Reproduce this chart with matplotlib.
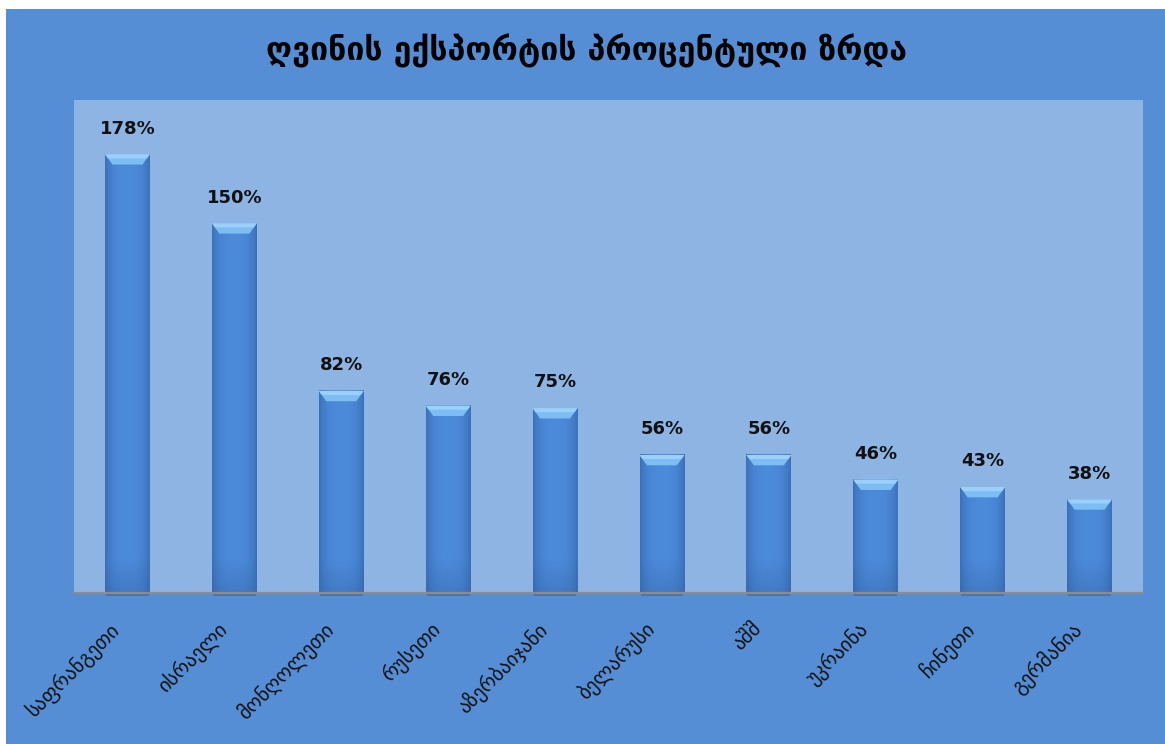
import matplotlib
matplotlib.use("Agg")
import matplotlib.pyplot as plt
import numpy as np
from matplotlib.patches import Rectangle, Polygon
from matplotlib.colors import to_rgb
from matplotlib.transforms import ScaledTranslation

title = "ღვინის ექსპორტის პროცენტული ზრდა"
categories = ["საფრანგეთი", "ისრაელი", "მონღოლეთი", "რუსეთი", "აზერბაიჯანი",
              "ბელარუსი", "აშშ", "უკრაინა", "ჩინეთი", "გერმანია"]
values = [178, 150, 82, 76, 75, 56, 56, 46, 43, 38]
value_labels = ["178%", "150%", "82%", "76%", "75%", "56%", "56%", "46%", "43%", "38%"]

plt.rcParams['font.family'] = ['DejaVu Sans']

W, H = 1165, 744
fig = plt.figure(figsize=(W / 100, H / 100), dpi=100, facecolor="white")
fig.patches.append(Rectangle((6 / W, 0), 1, (H - 9) / H, transform=fig.transFigure,
                             facecolor="#558ED5", edgecolor="none", zorder=-10))

left, right, top, bottom = 74 / W, 1143 / W, 1 - 100 / H, 1 - 593 / H
ax = fig.add_axes([left, bottom, right - left, top - bottom])
ax.set_facecolor("#8EB4E3")
for s in ["top", "right", "left"]:
    ax.spines[s].set_visible(False)
ax.spines["bottom"].set_color("#8C8C8C")
ax.spines["bottom"].set_linewidth(1.6)
ax.spines["bottom"].set_zorder(5)

x = np.arange(len(categories))
bw = 0.42
bars = ax.bar(x, values, width=bw, color="#4A86D4", edgecolor="none", zorder=2)
ax.set_xlim(-0.5, len(categories) - 0.5)
ax.set_ylim(0, 200)
ax.set_yticks([])

# gradient fills
nx, ny = 64, 128
u = np.linspace(-1, 1, nx)
hprof = 1 - 0.55 * np.abs(u) ** 3
v = np.linspace(0, 1, ny)[:, None]
c_mid = np.array(to_rgb("#4C8ADA"))
c_edge = np.array(to_rgb("#2E5C9E"))
c_bot = np.array(to_rgb("#31609F"))
for b in bars:
    x0 = b.get_x(); w = b.get_width(); h = b.get_height()
    base = c_edge[None, :] + (c_mid - c_edge)[None, :] * hprof[:, None]
    img = base[None, :, :] * np.ones((ny, 1, 1))
    vb = np.clip(1 - (v * h) / 14.0, 0, 1)[:, :, None]
    img = img * (1 - 0.35 * vb) + c_bot[None, None, :] * 0.35 * vb
    ax.imshow(img, extent=(x0, x0 + w, 0, h), origin="lower", aspect="auto",
              zorder=3, interpolation="bilinear")
    bev_h = 4.2
    ins = 0.07
    ax.add_patch(Polygon([(x0, h), (x0 + w, h), (x0 + w - ins, h - bev_h), (x0 + ins, h - bev_h)],
                         closed=True, facecolor="#7DBDF3", edgecolor="none", zorder=4))
    ax.add_patch(Polygon([(x0, h), (x0 + w, h), (x0 + w - ins * 0.4, h - bev_h * 0.4),
                          (x0 + ins * 0.4, h - bev_h * 0.4)],
                         closed=True, facecolor="#9AD0FA", edgecolor="none", zorder=4))
    ax.add_patch(Rectangle((x0 + 0.01, -1.2), w - 0.02, 1.2, facecolor="#3F5E86",
                           edgecolor="none", alpha=0.5, zorder=1, clip_on=False))

ax.set_xticks(x)
ax.set_xticklabels(categories, rotation=45, ha="right", va="top", rotation_mode="anchor",
                   fontsize=14.5, color="#111111")
ax.tick_params(axis="x", length=0, pad=17)
shift = ScaledTranslation(-0.18, -0.02, fig.dpi_scale_trans)
for lbl in ax.get_xticklabels():
    lbl.set_transform(lbl.get_transform() + shift)

for xi, vi, lab in zip(x, values, value_labels):
    ax.annotate(lab, (xi, vi), xytext=(0, 12), textcoords="offset points",
                ha="center", va="bottom", fontsize=13, fontweight="bold", color="#111111")

fig.text(586 / W, 1 - 51 / H, title, ha="center", va="center", fontsize=23,
         fontweight="bold", color="#000000")

fig.savefig("out.png", dpi=100, facecolor="white")
